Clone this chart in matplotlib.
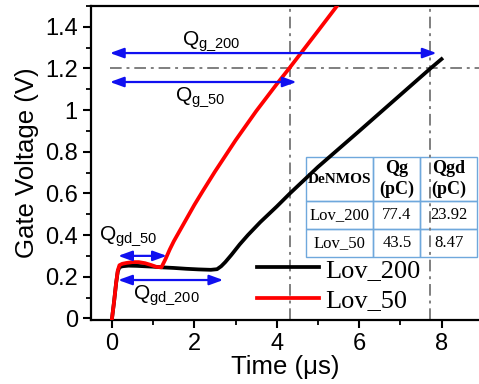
import matplotlib
matplotlib.use("Agg")
import matplotlib.pyplot as plt
from matplotlib.ticker import MultipleLocator, FuncFormatter

plt.rcParams['font.family'] = ['Liberation Sans', 'DejaVu Sans']
plt.rcParams['mathtext.default'] = 'regular'

# Gate charge curves: time (us) and gate voltage (V)
t_lov200 = [0, 0.05, 0.10, 0.14, 0.18, 0.25, 0.4, 0.6, 0.8, 1.0, 1.2, 1.5, 1.8,
            2.1, 2.4, 2.55, 2.65, 2.75, 2.9, 3.1, 3.3, 3.6, 4.0, 4.32, 5.0, 5.5,
            6.0, 6.5, 7.0, 7.5, 7.73, 8.0]
v_lov200 = [0, 0.08, 0.17, 0.225, 0.245, 0.25, 0.253, 0.252, 0.25, 0.248, 0.245,
            0.242, 0.238, 0.235, 0.233, 0.236, 0.25, 0.27, 0.305, 0.355, 0.40,
            0.462, 0.537, 0.60, 0.727, 0.813, 0.899, 0.986, 1.073, 1.16, 1.2, 1.245]

t_lov50 = [0, 0.05, 0.10, 0.14, 0.18, 0.25, 0.35, 0.5, 0.65, 0.8, 0.95, 1.08,
           1.2, 1.3, 1.4, 1.5, 1.6, 1.8, 2.0, 2.2, 2.5, 3.0, 3.5, 4.0, 4.3, 5.0, 5.5]
v_lov50 = [0, 0.08, 0.17, 0.23, 0.255, 0.262, 0.266, 0.27, 0.27, 0.265, 0.256,
           0.247, 0.245, 0.285, 0.33, 0.37, 0.405, 0.475, 0.545, 0.61, 0.705,
           0.855, 0.995, 1.125, 1.2, 1.38, 1.51]

series_labels = ['Lov_200', 'Lov_50']
series_colors = ['black', 'red']

# Reference levels
qg_times = [4.32, 7.73]      # times where each curve reaches the 1.2 V level
v_ref = 1.2

# Charge spans (start time, end time, voltage level, label)
arrow_x0 = [-0.05, -0.05, 0.15, 0.15]
arrow_x1 = [7.88, 4.48, 1.33, 2.70]
arrow_y = [1.274, 1.135, 0.30, 0.184]
arrow_labels = [r'Q$_{g\_200}$', r'Q$_{g\_50}$', r'Q$_{gd\_50}$', r'Q$_{gd\_200}$']
label_x = [1.69, 1.53, -0.31, 0.52]
label_y = [1.314, 1.045, 0.376, 0.096]

# Summary table
table_header = ['DeNMOS', 'Qg\n(pC)', 'Qgd\n(pC)']
table_devices = ['Lov_200', 'Lov_50']
table_qg = ['77.4', '43.5']
table_qgd = ['23.92', '8.47']

fig = plt.figure(figsize=(4.79, 3.84), dpi=100)
ax = fig.add_axes([91 / 479, 64 / 384, 388 / 479, 314 / 384])

ax.plot(t_lov200, v_lov200, color=series_colors[0], lw=2.7, label=series_labels[0],
        solid_joinstyle='round', zorder=3)
ax.plot(t_lov50, v_lov50, color=series_colors[1], lw=2.7, label=series_labels[1],
        solid_joinstyle='round', zorder=4)

grey_style = dict(color='#7f7f7f', lw=1.4, ls=(0, (6, 2.5, 1.5, 2.5)), zorder=2)
for tq in qg_times:
    ax.axvline(tq, **grey_style)
ax.hlines(v_ref, -0.05, 9.0, **grey_style)

for x0, x1, y in zip(arrow_x0, arrow_x1, arrow_y):
    ax.annotate('', xy=(x1, y), xytext=(x0, y),
                arrowprops=dict(arrowstyle='<|-|>,head_length=0.55,head_width=0.2',
                                color='#1010f0', lw=1.6, mutation_scale=15,
                                shrinkA=0, shrinkB=0), zorder=5)
for s, x, y in zip(arrow_labels, label_x, label_y):
    ax.text(x, y, s, fontsize=15, ha='left', va='baseline', zorder=6)

ax.set_xlim(-0.51, 8.91)
ax.set_ylim(-0.008, 1.5)
ax.xaxis.set_major_locator(MultipleLocator(2))
ax.xaxis.set_minor_locator(MultipleLocator(1))
ax.yaxis.set_major_locator(MultipleLocator(0.2))
ax.yaxis.set_minor_locator(MultipleLocator(0.1))
ax.yaxis.set_major_formatter(FuncFormatter(lambda v, p: f'{v:g}'))
ax.tick_params(which='major', direction='out', length=6, width=1.5, labelsize=17,
               top=False, right=False)
ax.tick_params(which='minor', direction='out', length=3.5, width=1.3,
               top=False, right=False)
for side in ['left', 'bottom', 'top']:
    ax.spines[side].set_linewidth(1.6)
ax.spines['right'].set_visible(False)

ax.set_xlabel('Time (\u03bcs)', fontsize=18.5, labelpad=0)
ax.set_ylabel('Gate Voltage (V)', fontsize=18.5, labelpad=4)

# Table
cell_text = [table_header] + [[d, q, g] for d, q, g in zip(table_devices, table_qg, table_qgd)]
tbl = ax.table(cellText=cell_text, cellLoc='center',
               colWidths=[67.6, 47, 56.7],
               bbox=[0.553, 0.2016, 0.442, 0.316], zorder=1)
tbl.auto_set_font_size(False)
row_h = [43.4, 28.3, 27.7]
for (r, c), cell in tbl.get_celld().items():
    cell.set_height(row_h[r])
    cell.set_edgecolor('#6fa8dc')
    cell.set_linewidth(1.0)
    cell.set_facecolor('none')
    txt = cell.get_text()
    txt.set_family(['Liberation Serif'])
    if r == 0:
        txt.set_weight('bold')
        txt.set_fontsize(11 if c == 0 else 13)
        txt.set_linespacing(1.25)
    else:
        txt.set_fontsize(12)

leg = ax.legend(loc='upper left', bbox_to_anchor=(0.428, 0.197), frameon=False,
                prop={'family': 'Liberation Serif', 'size': 19},
                handlelength=2.35, handletextpad=0.25, labelspacing=0.28,
                borderaxespad=0, borderpad=0)

fig.savefig('out.png', dpi=100)
